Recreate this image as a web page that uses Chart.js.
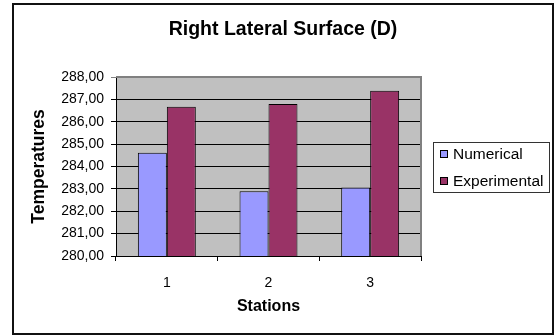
<!DOCTYPE html>
<html>
<head>
<meta charset="utf-8">
<script src="https://cdn.jsdelivr.net/npm/chart.js@4/dist/chart.umd.min.js"></script>
<style>
  html, body { margin: 0; padding: 0; background: #fff; }
  #wrap { width: 555px; height: 336px; }
</style>
</head>
<body>
<div id="wrap"><canvas id="c" width="555" height="336"></canvas></div>
<script>
const stations = ['1', '2', '3'];
const numerical = [284.62, 282.89, 283.06];
const experimental = [286.67, 286.79, 287.39];
const seriesNames = ['Numerical', 'Experimental'];
const yTicks = [280, 281, 282, 283, 284, 285, 286, 287, 288];

const FONT = "'Liberation Sans', Arial, sans-serif";

// Grey plot area, its darker top/right edge, the outer frame and the boxed legend
const decor = {
  id: 'decor',
  afterLayout(chart) {
    // centre the title across the whole framed chart, not just the plot
    const t = chart.titleBlock;
    if (t) { t.left = 13; t.right = 553; t.width = 540; }
  },
  beforeDraw(chart) {
    const { ctx, chartArea: a } = chart;
    ctx.save();
    ctx.fillStyle = '#fff';
    ctx.fillRect(0, 0, chart.width, chart.height);
    ctx.fillStyle = '#C0C0C0';
    ctx.fillRect(a.left, a.top, a.right - a.left, a.bottom - a.top);
    ctx.restore();
  },
  beforeDatasetsDraw(chart) {
    const { ctx, chartArea: a } = chart;
    ctx.save();
    ctx.strokeStyle = '#808080';
    ctx.lineWidth = 2;
    ctx.beginPath();
    ctx.moveTo(a.left, a.top);
    ctx.lineTo(a.right, a.top);
    ctx.lineTo(a.right, a.bottom);
    ctx.stroke();
    ctx.restore();
  },
  afterDraw(chart) {
    const { ctx } = chart;
    ctx.save();
    // outer frame
    ctx.strokeStyle = '#111';
    ctx.lineWidth = 2;
    ctx.strokeRect(13, 4, 540, 330);
    // legend
    const bx = 433.5, by = 142.5, bw = 116, bh = 50;
    ctx.lineWidth = 1;
    ctx.strokeStyle = '#333';
    ctx.strokeRect(bx, by, bw, bh);
    ctx.font = '15.5px ' + FONT;
    ctx.textBaseline = 'middle';
    ctx.textAlign = 'left';
    chart.data.datasets.forEach((ds, i) => {
      const cy = 154 + i * 27;
      ctx.fillStyle = ds.backgroundColor;
      ctx.fillRect(440.5, cy - 3.5, 7, 7);
      ctx.strokeStyle = '#000';
      ctx.strokeRect(440.5, cy - 3.5, 7, 7);
      ctx.fillStyle = '#000';
      ctx.fillText(ds.label, 453, cy + 1);
    });
    ctx.restore();
  }
};

new Chart(document.getElementById('c'), {
  type: 'bar',
  data: {
    labels: stations,
    datasets: [
      { label: seriesNames[0], data: numerical, backgroundColor: '#9999FF', borderColor: '#000', borderWidth: 1 },
      { label: seriesNames[1], data: experimental, backgroundColor: '#993366', borderColor: '#000', borderWidth: 1 }
    ]
  },
  options: {
    responsive: false,
    animation: false,
    events: [],
    layout: { padding: { left: 12, right: 134, top: 0, bottom: 0 } },
    datasets: { bar: { categoryPercentage: 0.57, barPercentage: 1.0 } },
    plugins: {
      legend: { display: false },
      tooltip: { enabled: false },
      title: {
        display: true,
        text: 'Right Lateral Surface (D)',
        color: '#000',
        font: { family: FONT, size: 19.5, weight: 'bold', lineHeight: 1.2 },
        padding: { top: 18, bottom: 35.6 }
      }
    },
    scales: {
      x: {
        offset: true,
        afterFit(s) { s.height = 80; },
        grid: { display: true, drawOnChartArea: false, drawTicks: true, tickLength: 5, color: '#000', offset: true },
        border: { display: true, color: '#000', width: 1 },
        ticks: { color: '#000', font: { family: FONT, size: 14 }, padding: 14 },
        title: {
          display: true, text: 'Stations', color: '#000',
          font: { family: FONT, size: 16, weight: 'bold', lineHeight: 1.2 },
          padding: { top: 0, bottom: 20 }
        }
      },
      y: {
        min: 280, max: 288,
        afterFit(s) { s.width = 104; },
        afterBuildTicks(s) { s.ticks = yTicks.map(v => ({ value: v })); },
        grid: {
          color: c => (c.tick && c.tick.value === 288 ? '#808080' : '#000'),
          tickLength: 5, drawTicks: true
        },
        border: { display: true, color: '#000', width: 1 },
        ticks: {
          color: '#000', font: { family: FONT, size: 14 }, padding: 7,
          callback: v => Number(v).toFixed(2).replace('.', ',')
        },
        title: {
          display: true, text: 'Temperatures', color: '#000',
          font: { family: FONT, size: 17.5, weight: 'bold', lineHeight: 1.2 },
          padding: { top: 17, bottom: 0 }
        }
      }
    }
  },
  plugins: [decor]
});
</script>
</body>
</html>
